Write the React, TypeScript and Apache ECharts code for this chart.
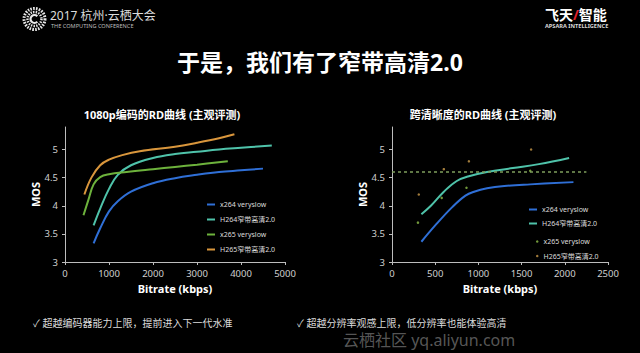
import React, { useEffect, useRef } from "react";
import * as echarts from "echarts";

// ---- data ----
const leftXTicks = [0, 1000, 2000, 3000, 4000, 5000];
const rightXTicks = [0, 500, 1000, 1500, 2000, 2500];
const seriesNames = ["x264 veryslow", "H264窄带高清2.0", "x265 veryslow", "H265窄带高清2.0"];

const leftX264 = [[650, 3.33], [800, 3.6], [1000, 3.9], [1200, 4.08], [1500, 4.25], [2000, 4.4], [2500, 4.49], [3000, 4.55], [3500, 4.6], [4000, 4.63], [4500, 4.66]];
const leftH264 = [[650, 3.65], [800, 3.95], [1000, 4.3], [1200, 4.55], [1500, 4.72], [2000, 4.85], [2500, 4.92], [3000, 4.96], [3500, 5.0], [4000, 5.03], [4700, 5.07]];
const leftX265 = [[420, 3.83], [530, 4.1], [650, 4.38], [800, 4.51], [1000, 4.56], [1400, 4.6], [2000, 4.65], [2500, 4.69], [3000, 4.73], [3700, 4.79]];
const leftH265 = [[440, 4.2], [600, 4.5], [800, 4.72], [1000, 4.82], [1300, 4.9], [1700, 4.97], [2500, 5.05], [3000, 5.12], [3500, 5.2], [3850, 5.27]];

const rightX264 = [[340, 3.36], [500, 3.65], [700, 3.98], [850, 4.18], [950, 4.25], [1100, 4.31], [1300, 4.35], [1600, 4.38], [2100, 4.42]];
const rightH264 = [[340, 3.85], [450, 4.0], [600, 4.25], [750, 4.44], [900, 4.53], [1100, 4.6], [1400, 4.67], [1700, 4.74], [2050, 4.85]];
const rightX265 = [[300, 3.7], [575, 4.14], [862, 4.32], [1600, 4.62]];
const rightH265 = [[310, 4.2], [600, 4.65], [890, 4.79], [1610, 5.0]];

const mosThreshold = 4.6;
const thresholdEnd = 2250;

const colors = ["#2f6fd6", "#4fc3aa", "#6db23c", "#d9963c"];

const FONT = "'Noto Sans', 'Noto Sans CJK SC', sans-serif";

function xAxisCfg(grid: number, ticks: number[]) {
  return {
    type: "value",
    gridIndex: grid,
    min: ticks[0],
    max: ticks[ticks.length - 1],
    interval: ticks[1] - ticks[0],
    axisLine: { show: true, lineStyle: { color: "#bdbdbd", width: 1 } },
    axisTick: { show: true, length: 3, lineStyle: { color: "#bdbdbd" } },
    splitLine: { show: false },
    axisLabel: { color: "#cfcfcf", fontSize: 9.5, margin: 7, fontFamily: FONT, formatter: (v: number) => String(v) },
    name: "Bitrate (kbps)",
    nameLocation: "middle",
    nameGap: 21,
    nameTextStyle: { color: "#ffffff", fontWeight: "bold", fontSize: 11, fontFamily: FONT },
  };
}

function yAxisCfg(grid: number) {
  return {
    type: "value",
    gridIndex: grid,
    min: 3,
    max: 5.4,
    interval: 0.5,
    axisLine: { show: true, lineStyle: { color: "#bdbdbd", width: 1 } },
    axisTick: { show: true, length: 3, lineStyle: { color: "#bdbdbd" } },
    splitLine: { show: false },
    axisLabel: { color: "#cfcfcf", fontSize: 9.5, margin: 7, showMaxLabel: false, fontFamily: FONT },
    name: "MOS",
    nameLocation: "middle",
    nameRotate: 90,
    nameGap: 24,
    nameTextStyle: { color: "#ffffff", fontWeight: "bold", fontSize: 11, fontFamily: FONT },
  };
}

function lineSeries(name: string, data: number[][], color: string, axis: number) {
  return {
    name,
    type: "line",
    xAxisIndex: axis,
    yAxisIndex: axis,
    data,
    smooth: 0.4,
    showSymbol: false,
    symbol: "none",
    itemStyle: { color },
    lineStyle: { color, width: 2 },
  };
}

export default function App() {
  const ref = useRef<HTMLDivElement>(null);
  useEffect(() => {
    if (!ref.current) return;
    const chart = echarts.init(ref.current, null, { renderer: "svg" });
    const strip = (n: string) => n.slice(2);
    const option: any = {
      animation: false,
      backgroundColor: "#000000",
      textStyle: { fontFamily: FONT },
      grid: [
        { left: 65, top: 127, width: 220, height: 135 },
        { left: 392, top: 127, width: 216, height: 135 },
      ],
      xAxis: [xAxisCfg(0, leftXTicks), xAxisCfg(1, rightXTicks)],
      yAxis: [yAxisCfg(0), yAxisCfg(1)],
      legend: [
        {
          data: seriesNames.map((n) => "L:" + n),
          formatter: strip,
          orient: "vertical",
          left: 207,
          top: 200,
          padding: 0,
          itemWidth: 8,
          itemHeight: 2,
          itemGap: 6,
          icon: "rect",
          selectedMode: false,
          textStyle: { color: "#dddddd", fontSize: 7, lineHeight: 9, fontFamily: FONT },
        },
        {
          data: seriesNames.slice(0, 2).map((n) => "R:" + n),
          formatter: strip,
          orient: "vertical",
          left: 529,
          top: 205,
          padding: 0,
          itemWidth: 8,
          itemHeight: 2,
          itemGap: 5,
          icon: "rect",
          selectedMode: false,
          textStyle: { color: "#dddddd", fontSize: 7, lineHeight: 9, fontFamily: FONT },
        },
        {
          data: seriesNames.slice(2).map((n) => "R:" + n),
          formatter: strip,
          orient: "vertical",
          left: 536,
          top: 237,
          padding: 0,
          itemWidth: 2.5,
          itemHeight: 2.5,
          itemGap: 5.5,
          icon: "circle",
          selectedMode: false,
          textStyle: { color: "#dddddd", fontSize: 7, lineHeight: 9, fontFamily: FONT },
        },
      ],
      series: [
        lineSeries("L:" + seriesNames[0], leftX264, colors[0], 0),
        lineSeries("L:" + seriesNames[1], leftH264, colors[1], 0),
        lineSeries("L:" + seriesNames[2], leftX265, colors[2], 0),
        lineSeries("L:" + seriesNames[3], leftH265, colors[3], 0),
        lineSeries("R:" + seriesNames[0], rightX264, colors[0], 1),
        lineSeries("R:" + seriesNames[1], rightH264, colors[1], 1),
        {
          name: "R:" + seriesNames[2],
          type: "scatter",
          xAxisIndex: 1,
          yAxisIndex: 1,
          data: rightX265,
          symbolSize: 2.5,
          itemStyle: { color: "#8fbf4a" },
          markLine: {
            silent: true,
            symbol: "none",
            label: { show: false },
            lineStyle: { color: "#7f9f5c", type: [3, 3], width: 1.5 },
            data: [[{ coord: [0, mosThreshold] }, { coord: [thresholdEnd, mosThreshold] }]],
          },
        },
        {
          name: "R:" + seriesNames[3],
          type: "scatter",
          xAxisIndex: 1,
          yAxisIndex: 1,
          data: rightH265,
          symbolSize: 2.5,
          itemStyle: { color: "#c99a4a" },
        },
      ],
      graphic: [
        // header logo
        {
          type: "group",
          x: 34.5,
          y: 19,
          children: [
            { type: "circle", shape: { cx: 0, cy: 0, r: 10.5 }, style: { fill: "none", stroke: "#e8e8e8", lineWidth: 3, lineDash: [1.6, 1.2] } },
            { type: "circle", shape: { cx: 0, cy: 0, r: 7 }, style: { fill: "none", stroke: "#e8e8e8", lineWidth: 2.5, lineDash: [1.4, 1.2] } },
            { type: "arc", shape: { cx: 0, cy: 0, r: 4, startAngle: Math.PI * 0.25, endAngle: Math.PI * 1.75 }, style: { stroke: "#e8e8e8", lineWidth: 2.2, fill: "none" } },
          ],
        },
        { type: "text", left: 50, top: 9, style: { text: "2017 杭州·云栖大会", fill: "#dcdcdc", font: `12px ${FONT}` } },
        { type: "text", left: 51, top: 23.5, style: { text: "THE COMPUTING CONFERENCE", fill: "#bdbdbd", font: `5.6px ${FONT}` } },
        { type: "text", left: 545, top: 7, style: { rich: { a: { fill: "#ffffff", font: `bold 14px ${FONT}` }, b: { fill: "#e0202a", font: `bold 14px ${FONT}` } }, text: "{a|飞天}{b|/}{a|智能}" } },
        { type: "text", left: 545, top: 23.5, style: { text: "APSARA INTELLIGENCE", fill: "#d8d8d8", font: `bold 5.6px ${FONT}` } },
        // main title
        { type: "text", x: 320, y: 62, style: { text: "于是，我们有了窄带高清2.0", fill: "#ffffff", font: `bold 23px ${FONT}`, align: "center", verticalAlign: "middle" } },
        // chart titles
        { type: "text", x: 162, y: 114, style: { text: "1080p编码的RD曲线 (主观评测)", fill: "#ffffff", font: `bold 11px ${FONT}`, align: "center", verticalAlign: "middle" } },
        { type: "text", x: 483, y: 114, style: { text: "跨清晰度的RD曲线 (主观评测)", fill: "#ffffff", font: `bold 11px ${FONT}`, align: "center", verticalAlign: "middle" } },
        // bottom notes
        { type: "text", left: 33, top: 318, style: { text: "✓ 超越编码器能力上限，提前进入下一代水准", fill: "#dcdcdc", font: `10px ${FONT}` } },
        { type: "text", left: 297, top: 318, style: { text: "✓ 超越分辨率观感上限，低分辨率也能体验高清", fill: "#dcdcdc", font: `10px ${FONT}` } },
        // watermark
        { type: "text", left: 343, top: 332, style: { text: "云栖社区 yq.aliyun.com", fill: "rgba(160,160,160,0.55)", font: `16px ${FONT}` } },
      ],
    };
    chart.setOption(option);
    return () => chart.dispose();
  }, []);
  return (
    <div
      ref={ref}
      style={{ position: "fixed", left: 0, top: 0, width: 640, height: 353, background: "#000" }}
    />
  );
}
